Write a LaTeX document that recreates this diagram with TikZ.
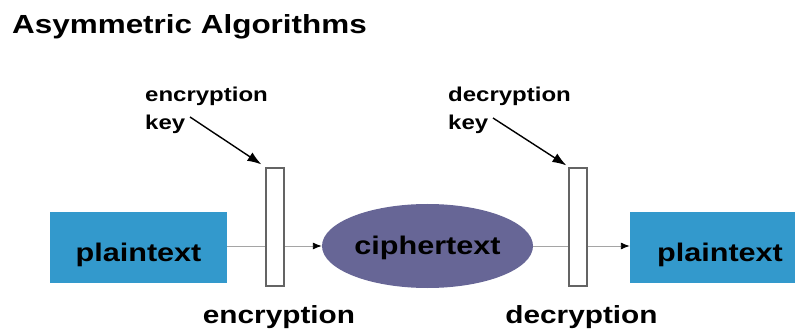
\documentclass[tikz,border=0pt]{standalone}
\usepackage{fontspec}
\setmainfont{Liberation Sans}[FakeStretch=1.2]
\usetikzlibrary{shapes.geometric,arrows.meta}
\definecolor{ptblue}{RGB}{51,153,204}
\definecolor{cipherfill}{RGB}{103,102,150}
\definecolor{keyedge}{RGB}{100,100,100}
\definecolor{flowgray}{RGB}{165,165,165}
\begin{document}
\begin{tikzpicture}[x=1pt,y=-1pt,
  ptbox/.style={draw=none,fill=ptblue,minimum width=177pt,minimum height=71pt,inner sep=0pt,
    font=\fontsize{25.5}{28}\selectfont\bfseries,text height=27pt,text depth=0pt},
  ciph/.style={ellipse,draw=none,fill=cipherfill,minimum width=211pt,minimum height=84pt,inner sep=0pt,
    font=\fontsize{25.5}{28}\selectfont\bfseries,text height=17pt,text depth=0pt},
  keybox/.style={draw=keyedge,line width=1.2pt,fill=white,minimum width=18pt,minimum height=118pt,inner sep=0pt},
  flowline/.style={draw=flowgray,line width=0.9pt},
  flowarrow/.style={flowline,-{Latex[color=black,length=9pt,width=7pt]}},
  keyarrow/.style={draw=black,line width=1.4pt,-{Latex[length=14pt,width=10pt]}},
  smalllab/.style={inner sep=0pt,anchor=base west,font=\fontsize{20}{24}\selectfont\bfseries},
  biglab/.style={inner sep=0pt,anchor=base,font=\fontsize{24.8}{28}\selectfont\bfseries},
  titlestyle/.style={inner sep=0pt,anchor=base west,font=\fontsize{26.2}{30}\selectfont\bfseries}
]
\useasboundingbox (0,0) rectangle (795,331);

\node[titlestyle] (title) at (12,34) {Asymmetric Algorithms};

\node[ptbox] (left) at (138.5,247.5) {plaintext};
\node[ptbox,minimum width=180pt] (right) at (720,247.5) {plaintext};
\node[ciph] (cipher) at (427.5,246) {ciphertext};

\draw[flowarrow] (left.east |- cipher.west) -- (cipher.west);
\draw[flowarrow] (cipher.east) -- (cipher.east -| right.west);

\node[keybox] (key1) at (275,227) {};
\node[keybox] (key2) at (578,227) {};

\node[smalllab] (encl1) at (145,102) {encryption};
\node[smalllab] (encl2) at (145,130) {key};
\node[smalllab] (decl1) at (448,102) {decryption};
\node[smalllab] (decl2) at (448,130) {key};

\coordinate (encstart) at (190,117);
\coordinate (decstart) at (493,118);
\draw[keyarrow] (encstart) -- ([shift={(-4,-3)}]key1.north west);
\draw[keyarrow] (decstart) -- ([shift={(-2,-2)}]key2.north west);

\node[biglab] (encb) at (279,323) {encryption};
\node[biglab] (decb) at (581.5,323) {decryption};
\end{tikzpicture}
\end{document}
